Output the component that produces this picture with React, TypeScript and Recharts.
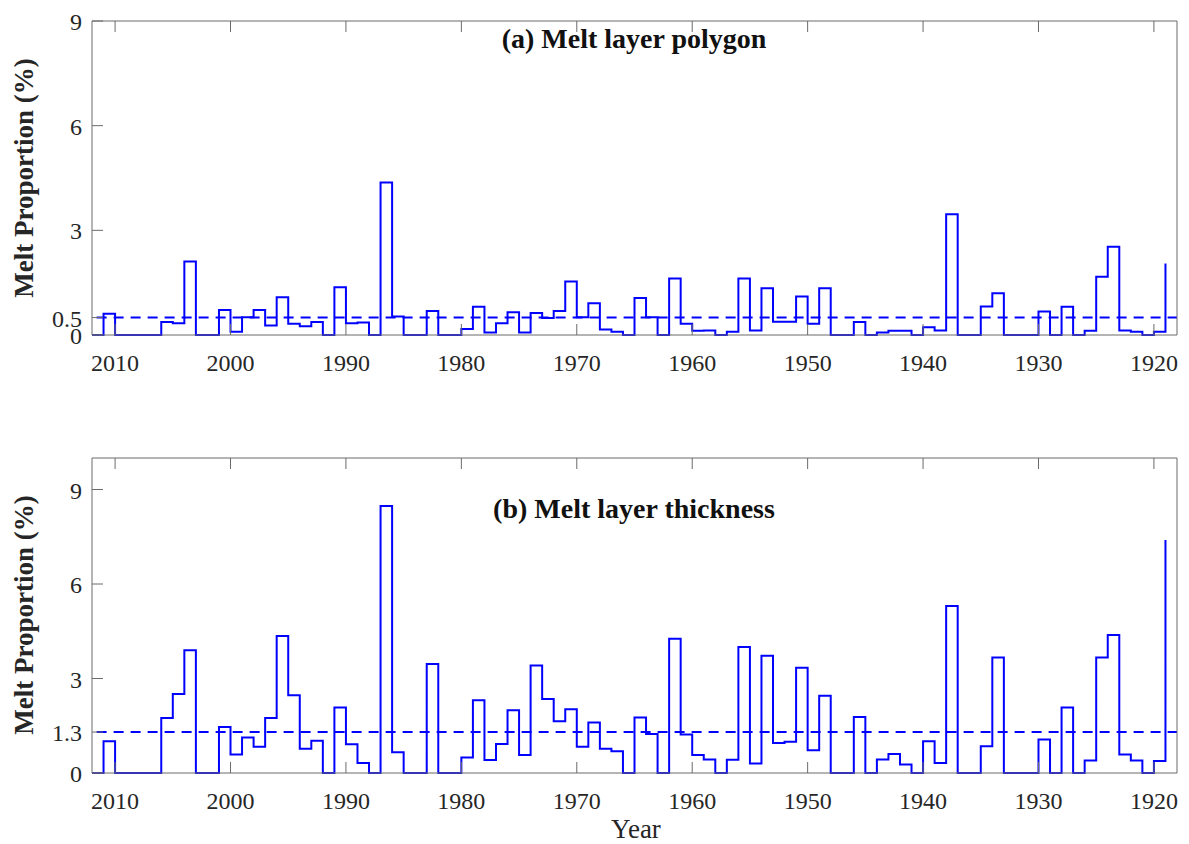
import React from 'react';
import { LineChart, Line, XAxis, YAxis, ReferenceLine } from 'recharts';

// one value per year, 2012 back to 1919 (stairs: each value holds until the next year)
const years = [
  2012, 2011, 2010, 2009, 2008, 2007, 2006, 2005, 2004, 2003,
  2002, 2001, 2000, 1999, 1998, 1997, 1996, 1995, 1994, 1993,
  1992, 1991, 1990, 1989, 1988, 1987, 1986, 1985, 1984, 1983,
  1982, 1981, 1980, 1979, 1978, 1977, 1976, 1975, 1974, 1973,
  1972, 1971, 1970, 1969, 1968, 1967, 1966, 1965, 1964, 1963,
  1962, 1961, 1960, 1959, 1958, 1957, 1956, 1955, 1954, 1953,
  1952, 1951, 1950, 1949, 1948, 1947, 1946, 1945, 1944, 1943,
  1942, 1941, 1940, 1939, 1938, 1937, 1936, 1935, 1934, 1933,
  1932, 1931, 1930, 1929, 1928, 1927, 1926, 1925, 1924, 1923,
  1922, 1921, 1920, 1919,
];

const polygonPct = [
  0, 0.61, 0, 0, 0, 0, 0.37, 0.34, 2.11, 0,
  0, 0.72, 0.09, 0.51, 0.72, 0.27, 1.08, 0.32, 0.25, 0.37,
  0, 1.37, 0.34, 0.36, 0, 4.37, 0.53, 0, 0, 0.69,
  0, 0, 0.17, 0.81, 0.07, 0.34, 0.65, 0.07, 0.63, 0.49,
  0.69, 1.53, 0.51, 0.91, 0.16, 0.09, 0, 1.06, 0.51, 0,
  1.62, 0.32, 0.12, 0.13, 0, 0.09, 1.62, 0.13, 1.34, 0.38,
  0.38, 1.1, 0.32, 1.34, 0, 0, 0.37, 0, 0.07, 0.12,
  0.12, 0, 0.22, 0.13, 3.46, 0, 0, 0.82, 1.2, 0,
  0, 0, 0.67, 0, 0.81, 0, 0.12, 1.67, 2.53, 0.13,
  0.09, 0, 0.09, 2.05,
];

const thicknessPct = [
  0, 1.01, 0, 0, 0, 0, 1.75, 2.51, 3.9, 0,
  0, 1.46, 0.59, 1.13, 0.83, 1.75, 4.35, 2.47, 0.77, 1.02,
  0, 2.08, 0.91, 0.32, 0, 8.48, 0.66, 0, 0, 3.46,
  0, 0, 0.49, 2.31, 0.41, 0.92, 1.99, 0.57, 3.41, 2.35,
  1.64, 2.02, 0.83, 1.6, 0.77, 0.69, 0, 1.76, 1.24, 0,
  4.26, 1.22, 0.57, 0.43, 0, 0.42, 4.0, 0.3, 3.72, 0.95,
  0.99, 3.34, 0.72, 2.45, 0, 0, 1.78, 0, 0.43, 0.6,
  0.27, 0, 1.01, 0.32, 5.3, 0, 0, 0.85, 3.67, 0,
  0, 0, 1.06, 0, 2.08, 0, 0.4, 3.67, 4.38, 0.59,
  0.4, 0, 0.38, 7.4,
];

const yearTicks = [2010, 2000, 1990, 1980, 1970, 1960, 1950, 1940, 1930, 1920];
const yearDomain = [1918, 2012];
const polygonTicks = [0, 0.5, 3, 6, 9];
const thicknessTicks = [0, 1.3, 3, 6, 9];
const polygonMean = 0.5;
const thicknessMean = 1.3;
const meanSpan = [2011.6, 1918];

const data = years.map((year, i) => ({ year, polygon: polygonPct[i], thickness: thicknessPct[i] }));

const AXIS = '#6b6b6b';
const INK = '#262626';
const BLUE = '#0000ff';
const FONT = '"Liberation Serif", "Times New Roman", serif';
const TICK = 11;

// MATLAB-style ticks: marks point into the plot box
const BottomTick = ({ x, y, payload }: any) => (
  <g>
    <line x1={x} y1={y} x2={x} y2={y - TICK} stroke={AXIS} />
    <text x={x} y={y + 36} textAnchor="middle" fill={INK} fontSize={24} fontFamily={FONT}>
      {payload.value}
    </text>
  </g>
);

const TopTick = ({ x, y }: any) => <line x1={x} y1={y} x2={x} y2={y + TICK} stroke={AXIS} />;

const LeftTick = ({ x, y, payload }: any) => (
  <g>
    <line x1={x} y1={y} x2={x + TICK} y2={y} stroke={AXIS} />
    <text x={x - 10} y={y + 9} textAnchor="end" fill={INK} fontSize={24} fontFamily={FONT}>
      {payload.value}
    </text>
  </g>
);

const RightTick = ({ x, y }: any) => <line x1={x} y1={y} x2={x - TICK} y2={y} stroke={AXIS} />;

function Panel({ dataKey, ticks, yMax, mean, top, height, margin, xHeight }: any) {
  return (
    <div style={{ position: 'absolute', left: 0, top }}>
      <LineChart width={1189} height={height} data={data} margin={margin}>
        <XAxis
          dataKey="year"
          type="number"
          domain={yearDomain}
          reversed
          ticks={yearTicks}
          interval={0}
          height={xHeight}
          tickSize={0}
          tickMargin={0}
          tickLine={false}
          axisLine={{ stroke: AXIS }}
          tick={<BottomTick />}
        />
        <XAxis
          xAxisId="top"
          orientation="top"
          dataKey="year"
          type="number"
          domain={yearDomain}
          reversed
          ticks={yearTicks}
          interval={0}
          height={1}
          tickSize={0}
          tickMargin={0}
          tickLine={false}
          axisLine={{ stroke: AXIS }}
          tick={<TopTick />}
        />
        <YAxis
          type="number"
          domain={[0, yMax]}
          ticks={ticks}
          interval={0}
          width={92}
          tickSize={0}
          tickMargin={0}
          tickLine={false}
          axisLine={{ stroke: AXIS }}
          tick={<LeftTick />}
        />
        <YAxis
          yAxisId="right"
          orientation="right"
          type="number"
          domain={[0, yMax]}
          ticks={ticks}
          interval={0}
          width={1}
          tickSize={0}
          tickMargin={0}
          tickLine={false}
          axisLine={{ stroke: AXIS }}
          tick={<RightTick />}
        />
        <ReferenceLine
          segment={[{ x: meanSpan[0], y: mean }, { x: meanSpan[1], y: mean }]}
          stroke={BLUE}
          strokeWidth={2}
          strokeDasharray="10 7"
        />
        <Line
          type="stepAfter"
          dataKey={dataKey}
          stroke={BLUE}
          strokeWidth={2}
          strokeLinejoin="miter"
          dot={false}
          activeDot={false}
          isAnimationActive={false}
        />
      </LineChart>
    </div>
  );
}

export default function App() {
  return (
    <div style={{ position: 'absolute', left: 0, top: 0, width: 1189, height: 844, background: '#fff' }}>
      <Panel
        dataKey="polygon"
        ticks={polygonTicks}
        yMax={9}
        mean={polygonMean}
        top={0}
        height={380}
        margin={{ top: 20, right: 11, bottom: 0, left: 0 }}
        xHeight={45}
      />
      <Panel
        dataKey="thickness"
        ticks={thicknessTicks}
        yMax={10}
        mean={thicknessMean}
        top={420}
        height={424}
        margin={{ top: 37, right: 11, bottom: 0, left: 0 }}
        xHeight={71}
      />
      <svg
        width={1189}
        height={844}
        style={{ position: 'absolute', left: 0, top: 0, pointerEvents: 'none' }}
        fontFamily={FONT}
      >
        <text x={634} y={48} textAnchor="middle" fontSize={28} fontWeight="bold" fill="#111">
          (a) Melt layer polygon
        </text>
        <text x={634} y={518} textAnchor="middle" fontSize={28} fontWeight="bold" fill="#111">
          (b) Melt layer thickness
        </text>
        <text transform="translate(33,178) rotate(-90)" textAnchor="middle" fontSize={27} fontWeight="bold" fill={INK}>
          Melt Proportion (%)
        </text>
        <text transform="translate(33,615) rotate(-90)" textAnchor="middle" fontSize={27} fontWeight="bold" fill={INK}>
          Melt Proportion (%)
        </text>
        <text x={636} y={838} textAnchor="middle" fontSize={27} fill={INK}>
          Year
        </text>
      </svg>
    </div>
  );
}
